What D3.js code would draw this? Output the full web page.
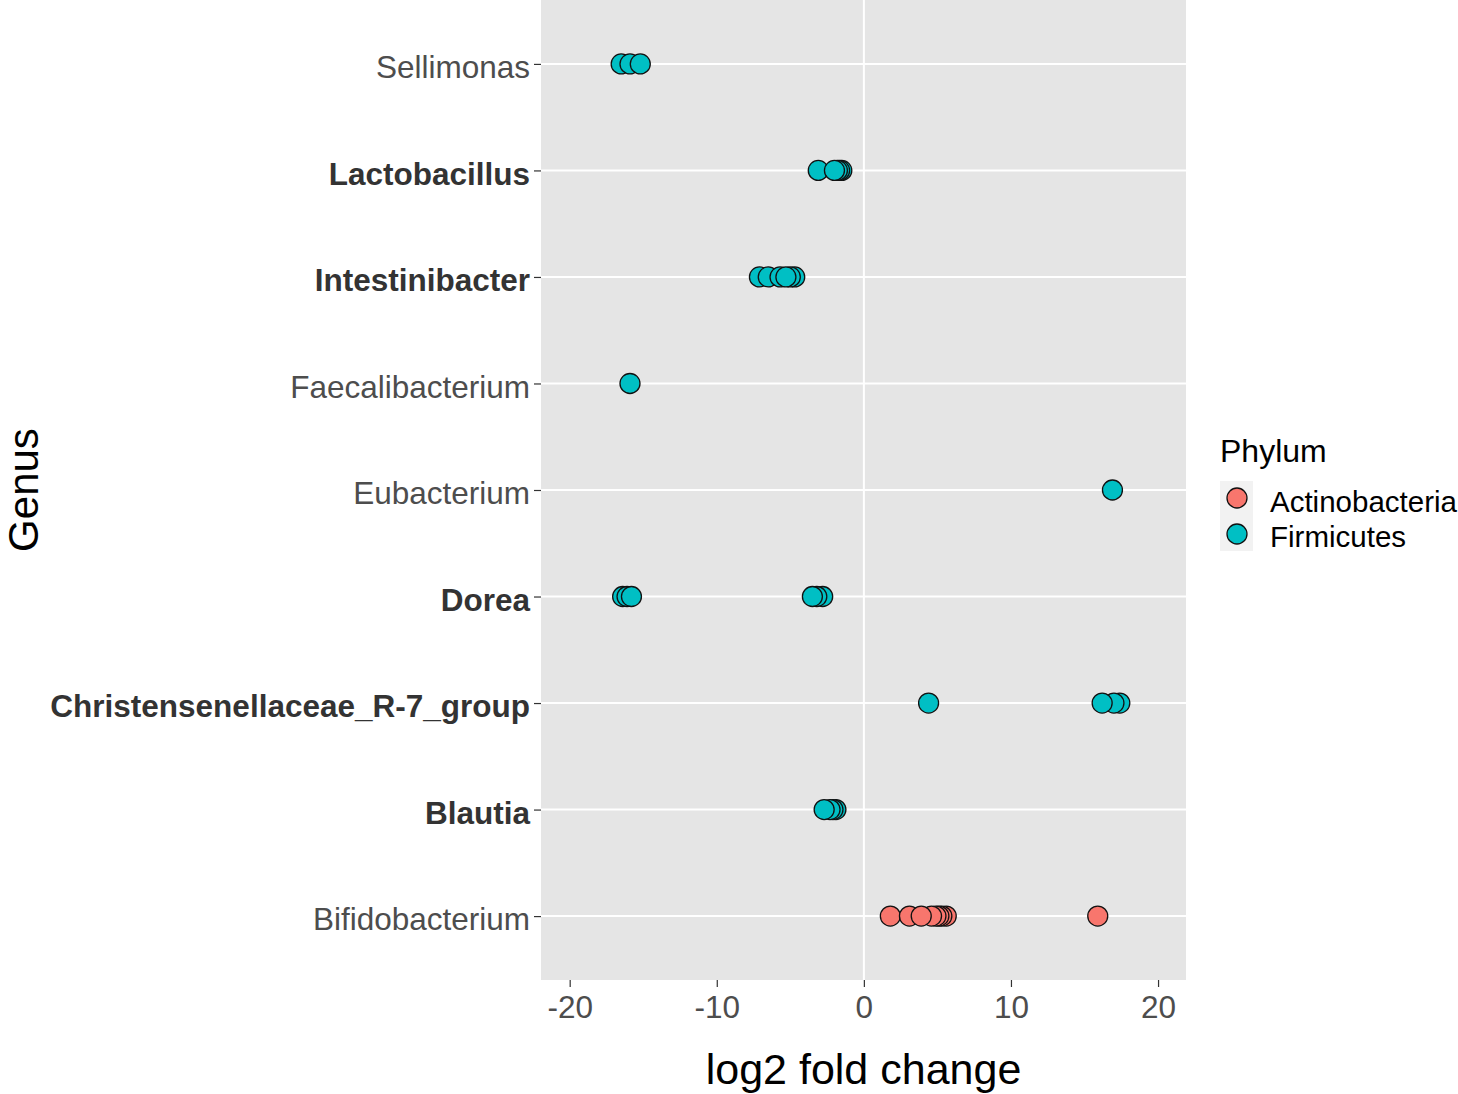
<!DOCTYPE html>
<html><head><meta charset="utf-8">
<script src="https://cdn.jsdelivr.net/npm/d3@7"></script>
<style>body{margin:0;background:#fff}svg{display:block}</style>
</head><body>
<script>
// Genera, top to bottom
const genera = ["Sellimonas","Lactobacillus","Intestinibacter","Faecalibacterium","Eubacterium","Dorea","Christensenellaceae_R-7_group","Blautia","Bifidobacterium"];
const boldGenera = ["Lactobacillus","Intestinibacter","Dorea","Christensenellaceae_R-7_group","Blautia"];
const phyla = ["Actinobacteria","Firmicutes"];
const phylumColors = ["#F8766D","#00BFC4"];
const xTicks = [-20,-10,0,10,20];

// log2 fold change values per genus (drawing order)
const sellimonasLFC = [-16.5,-15.9,-15.2];
const lactobacillusLFC = [-1.5,-1.65,-1.8,-3.1,-2.0];
const intestinibacterLFC = [-4.7,-5.0,-7.1,-6.5,-5.7,-5.3];
const faecalibacteriumLFC = [-15.9];
const eubacteriumLFC = [16.9];
const doreaLFC = [-16.4,-16.1,-15.8,-2.8,-3.2,-3.5];
const christensenellaceaeLFC = [4.4,17.4,17.0,16.2];
const blautiaLFC = [-1.9,-2.1,-2.3,-2.7];
const bifidobacteriumLFC = [1.8,3.1,5.6,5.3,5.1,4.9,4.6,3.9,15.9];

const genusValues = [sellimonasLFC,lactobacillusLFC,intestinibacterLFC,faecalibacteriumLFC,eubacteriumLFC,doreaLFC,christensenellaceaeLFC,blautiaLFC,bifidobacteriumLFC];
const genusPhylum = ["Firmicutes","Firmicutes","Firmicutes","Firmicutes","Firmicutes","Firmicutes","Firmicutes","Firmicutes","Actinobacteria"];

const W = 1458, H = 1094;
const panel = {left:541, right:1186, top:0, bottom:980};

const svg = d3.select("body").append("svg").attr("width",W).attr("height",H)
  .style("font-family","'Liberation Sans', Arial, sans-serif");

const x = d3.scaleLinear().domain([-21.95,21.9]).range([panel.left,panel.right]);
const y = d3.scalePoint().domain(genera).range([panel.top,panel.bottom]).padding(0.6);
const color = d3.scaleOrdinal().domain(phyla).range(phylumColors);

// panel background
svg.append("rect").attr("x",panel.left).attr("y",panel.top)
  .attr("width",panel.right-panel.left).attr("height",panel.bottom-panel.top)
  .attr("fill","#E5E5E5");

// horizontal grid lines
svg.append("g").selectAll("line").data(genera).join("line")
  .attr("x1",panel.left).attr("x2",panel.right)
  .attr("y1",d=>y(d)).attr("y2",d=>y(d))
  .attr("stroke","#fff").attr("stroke-width",2);

// vertical line at 0
svg.append("line").attr("x1",x(0)).attr("x2",x(0))
  .attr("y1",panel.top).attr("y2",panel.bottom)
  .attr("stroke","#fff").attr("stroke-width",2);

// points
const points = [];
genera.forEach((g,i)=>genusValues[i].forEach(v=>points.push({genus:g,lfc:v,phylum:genusPhylum[i]})));
svg.append("g").selectAll("circle").data(points).join("circle")
  .attr("cx",d=>x(d.lfc)).attr("cy",d=>y(d.genus)).attr("r",10)
  .attr("fill",d=>color(d.phylum)).attr("stroke","#111").attr("stroke-width",1.3);

// y axis
const yAxis = svg.append("g").attr("transform",`translate(${panel.left},0)`)
  .call(d3.axisLeft(y).tickSize(7).tickPadding(4));
yAxis.select(".domain").remove();
yAxis.selectAll(".tick line").attr("stroke","#333").attr("stroke-width",1.2);
yAxis.selectAll(".tick text").style("font-size","31.5px")
  .style("font-family","'Liberation Sans', Arial, sans-serif")
  .attr("dy","0.37em").attr("y",2)
  .attr("font-weight",d=>boldGenera.includes(d)?"bold":"normal")
  .attr("fill",d=>boldGenera.includes(d)?"#333":"#4D4D4D");

// x axis
const xAxis = svg.append("g").attr("transform",`translate(0,${panel.bottom})`)
  .call(d3.axisBottom(x).tickValues(xTicks).tickFormat(d=>String(d)).tickSize(7).tickPadding(9));
xAxis.select(".domain").remove();
xAxis.selectAll(".tick line").attr("stroke","#333").attr("stroke-width",1.2);
xAxis.selectAll(".tick text").attr("fill","#4D4D4D").style("font-size","31.5px")
  .style("font-family","'Liberation Sans', Arial, sans-serif");

// axis titles
svg.append("text").attr("x",(panel.left+panel.right)/2).attr("y",1084)
  .attr("text-anchor","middle").style("font-size","43px").attr("fill","#000")
  .text("log2 fold change");
svg.append("text").attr("transform",`translate(38,${(panel.top+panel.bottom)/2}) rotate(-90)`)
  .attr("text-anchor","middle").style("font-size","42px").attr("fill","#000")
  .text("Genus");

// legend
const lg = svg.append("g");
lg.append("text").attr("x",1220).attr("y",462).style("font-size","32px").attr("fill","#000").text("Phylum");
lg.append("rect").attr("x",1220).attr("y",481).attr("width",33).attr("height",70).attr("fill","#F2F2F2");
phyla.forEach((p,i)=>{
  lg.append("circle").attr("cx",1237).attr("cy",498+i*36).attr("r",10)
    .attr("fill",color(p)).attr("stroke","#111").attr("stroke-width",1.3);
  lg.append("text").attr("x",1270).attr("y",512+i*35).style("font-size","29.5px").attr("fill","#000").text(p);
});
</script>
</body></html>
